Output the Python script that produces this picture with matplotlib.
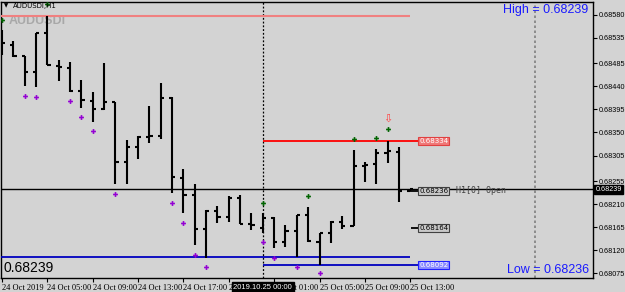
import matplotlib
matplotlib.use("Agg")
import matplotlib.pyplot as plt
import matplotlib.transforms as mtransforms

# Barras H1 do AUDUSDi (índice da barra, abertura, máxima, mínima, fechamento)
abertura = [0.68530, 0.68521, 0.68499, 0.68468, 0.68544, 0.68480, 0.68476, 0.68431, 0.68411, 0.68396,
            0.68410, 0.68292, 0.68322, 0.68341, 0.68343, 0.68417, 0.68261, 0.68228, 0.68161, 0.68197,
            0.68185, 0.68222, 0.68171, 0.68163, 0.68183, 0.68136, 0.68158, 0.68189, 0.68136, 0.68154,
            0.68175, 0.68167, 0.68284, 0.68288, 0.68310, 0.68312, 0.68236]
maxima = [0.68550, 0.68529, 0.68499, 0.68544, 0.68577, 0.68492, 0.68488, 0.68452, 0.68429, 0.68486,
          0.68410, 0.68335, 0.68343, 0.68402, 0.68447, 0.68419, 0.68279, 0.68249, 0.68199, 0.68206,
          0.68226, 0.68228, 0.68193, 0.68193, 0.68185, 0.68169, 0.68189, 0.68204, 0.68154, 0.68177,
          0.68187, 0.68316, 0.68292, 0.68318, 0.68334, 0.68322, 0.68239]
minima = [0.68501, 0.68497, 0.68441, 0.68439, 0.68482, 0.68451, 0.68429, 0.68398, 0.68370, 0.68394,
          0.68249, 0.68249, 0.68298, 0.68329, 0.68337, 0.68232, 0.68193, 0.68130, 0.68105, 0.68173,
          0.68175, 0.68171, 0.68159, 0.68154, 0.68124, 0.68126, 0.68107, 0.68136, 0.68092, 0.68134,
          0.68161, 0.68167, 0.68253, 0.68249, 0.68290, 0.68214, 0.68236]
fechamento = [0.68525, 0.68499, 0.68468, 0.68544, 0.68482, 0.68478, 0.68431, 0.68413, 0.68396, 0.68410,
              0.68292, 0.68322, 0.68341, 0.68343, 0.68417, 0.68263, 0.68228, 0.68161, 0.68197, 0.68185,
              0.68222, 0.68171, 0.68169, 0.68183, 0.68136, 0.68158, 0.68189, 0.68138, 0.68154, 0.68175,
              0.68167, 0.68284, 0.68286, 0.68310, 0.68314, 0.68236, 0.68239]
barras = list(range(len(abertura)))

# Marcadores do indicador (roxo abaixo das mínimas, verde acima das máximas)
roxo_x = [2, 3, 6, 7, 8, 10, 15, 16, 17, 18, 23, 24, 26, 28]
roxo_y = [0.68421, 0.68419, 0.68411, 0.68380, 0.68353, 0.68230, 0.68212, 0.68173, 0.68111, 0.68087,
          0.68136, 0.68105, 0.68087, 0.68076]
verde_x = [0, 4, 23, 27, 31, 33, 34]
verde_y = [0.68570, 0.68601, 0.68212, 0.68226, 0.68337, 0.68339, 0.68357]
seta_x, seta_y = 34, 0.68376

# Níveis
preco_atual = 0.68239
max_ontem, min_ontem = 0.68577, 0.68107
max_hoje, min_hoje = 0.68334, 0.68092
abertura_h1 = 0.68236
nivel_meio = 0.68164
barra_dia = 23
barra_futura = 47

# Eixos
eixo_y = [0.68580, 0.68535, 0.68485, 0.68440, 0.68395, 0.68350, 0.68305, 0.68255,
          0.68210, 0.68165, 0.68120, 0.68075]
eixo_x = [0, 4, 8, 12, 16, 20, 24, 28, 32, 36]
rotulos_x = ["24 Oct 2019", "24 Oct 05:00", "24 Oct 09:00", "24 Oct 13:00", "24 Oct 17:00",
             "24 Oct 21:00", "25 Oct 01:00", "25 Oct 05:00", "25 Oct 09:00", "25 Oct 13:00"]

fundo = "#d3d3d3"
W, H = 625, 292
fig = plt.figure(figsize=(W / 100, H / 100), dpi=100, facecolor=fundo)
ax = fig.add_axes([1 / W, (H - 278) / H, 592 / W, 276 / H], facecolor=fundo)
ax.set_xlim(-0.09, 52.12)
ax.set_ylim(0.680658, 0.686048)

# Barras OHLC
ax.vlines(barras, minima, maxima, color="black", lw=1.5, zorder=4)
ax.hlines(abertura, [b - 0.28 for b in barras], barras, color="black", lw=1.5, zorder=4)
ax.hlines(fechamento, barras, [b + 0.28 for b in barras], color="black", lw=1.5, zorder=4)

# Linhas horizontais
ax.axhline(preco_atual, color="black", lw=1, zorder=3)
ax.hlines(max_ontem, -0.09, 36, color="#f08080", lw=1.5, zorder=3)
ax.hlines(min_ontem, -0.09, 36, color="#0000c0", lw=1.3, zorder=3)
ax.hlines(max_hoje, barra_dia, 36.75, color="red", lw=1.3, zorder=3)
ax.hlines(min_hoje, barra_dia, 36.75, color="#0000c0", lw=1.3, zorder=3)
ax.hlines(abertura_h1, 35.8, 36.75, color="black", lw=1.3, zorder=3)
ax.hlines(nivel_meio, 36.1, 36.75, color="black", lw=1.3, zorder=3)

# Linhas verticais
ax.axvline(barra_dia, color="black", lw=0.9, ls=(0, (1.5, 1.5)), zorder=2)
ax.axvline(barra_futura, color="#808080", lw=1.2, ls=(0, (1.5, 1.5)), zorder=2)

# Marcadores
ax.plot(roxo_x, roxo_y, "P", color="#9400d3", ms=3.5, mew=0, zorder=5)
ax.plot(verde_x, verde_y, "P", color="#006400", ms=3.5, mew=0, zorder=5)
ax.text(seta_x, seta_y, "\u21e9", color="#ff4040", fontsize=8, ha="center", va="center", zorder=5)

# Caixas de preço
caixas = [(max_hoje, "#f07878", "white", "#e04040"),
          (abertura_h1, "#c8c8c8", "black", "#404040"),
          (nivel_meio, "#c8c8c8", "black", "#404040"),
          (min_hoje, "#8c8cff", "white", "#2020ff")]
for nivel, cor_fundo, cor_texto, cor_borda in caixas:
    ax.text(36.8, nivel, f"{nivel:.5f}", fontsize=5, color=cor_texto, ha="left", va="center",
            bbox=dict(boxstyle="square,pad=0.15", fc=cor_fundo, ec=cor_borda, lw=0.8), zorder=6)
ax.text(40.0, abertura_h1, "H1[0] Open", fontsize=6, family="DejaVu Sans Mono",
        color="#404040", ha="left", va="center", zorder=6)

# Textos
ax.text(0.0034, 0.036, f"{preco_atual:.5f}", transform=ax.transAxes, fontsize=10,
        family="Liberation Sans", ha="left", va="center", zorder=6)
ax.text(0.9916, 0.971, f"High = {preco_atual:.5f}", transform=ax.transAxes, fontsize=9,
        family="Liberation Sans", color="#1a1aff", ha="right", va="center", zorder=6)
ax.text(0.993, 0.029, f"Low = {abertura_h1:.5f}", transform=ax.transAxes, fontsize=9,
        family="Liberation Sans", color="#1a1aff", ha="right", va="center", zorder=6)
ax.text(0.0135, 0.931, "AUDUSDi", transform=ax.transAxes, fontsize=9, weight="bold",
        family="Liberation Sans", color="#a8a8a8", ha="left", va="center", zorder=1)
ax.text(0.005, 0.985, "\u25bc", transform=ax.transAxes, fontsize=4, ha="left", va="center", zorder=6)
ax.text(0.02, 0.985, "AUDUSDi,H1", transform=ax.transAxes, fontsize=5, ha="left", va="center", zorder=6)

# Eixo Y à direita
ax.yaxis.tick_right()
ax.set_yticks(eixo_y)
ax.set_yticklabels([f"{v:.5f}" for v in eixo_y], fontsize=5.2, family="Liberation Sans")
ax.tick_params(axis="y", length=3, width=0.8, pad=0.8, colors="black")
trans_y = mtransforms.blended_transform_factory(ax.transAxes, ax.transData)
ax.text(1.004, preco_atual, f"{preco_atual:.5f}", transform=trans_y, fontsize=5.2,
        family="Liberation Sans", color="white", ha="left", va="center",
        bbox=dict(boxstyle="square,pad=0.15", fc="black", ec="black"), clip_on=False, zorder=7)

# Eixo X
ax.set_xticks(eixo_x)
ax.set_xticklabels(rotulos_x, fontsize=6, family="Liberation Serif", ha="left")
ax.tick_params(axis="x", length=3, width=0.8, pad=1.5)
trans_x = mtransforms.blended_transform_factory(ax.transData, ax.transAxes)
ax.text(barra_dia, -0.021, "2019.10.25 00:00", transform=trans_x, fontsize=5.5, color="white",
        family="Liberation Sans", ha="center", va="top",
        bbox=dict(boxstyle="square,pad=0.25", fc="black", ec="black"), clip_on=False, zorder=7)

for lado in ax.spines.values():
    lado.set_color("black")
    lado.set_linewidth(1)

fig.savefig("out.png", dpi=100, facecolor=fundo)
